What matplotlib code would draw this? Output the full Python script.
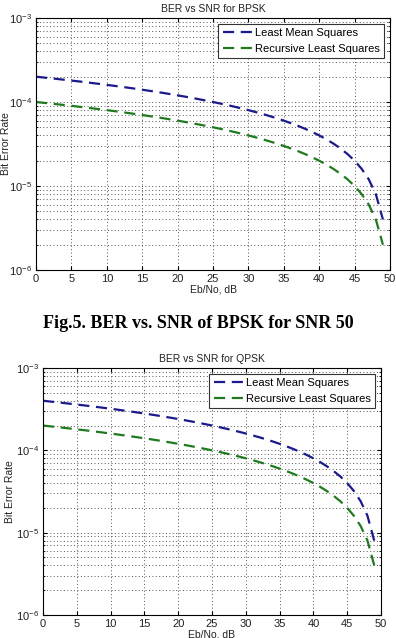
import matplotlib
matplotlib.use('Agg')
import matplotlib.pyplot as plt
import numpy as np

# Eb/No axis, dB
ebno = list(range(0, 50))

# BER values, in units of 1e-6
bpsk_lms = [200, 196, 192, 188, 184, 180, 176, 172, 168, 164,
            160, 156, 152, 148, 144, 140, 136, 132, 128, 124,
            120, 116, 112, 108, 104, 100, 96, 92, 88, 84,
            80, 76, 72, 68, 64, 60, 56, 52, 48, 44,
            40, 36, 32, 28, 24, 20, 16, 12, 8, 4]
bpsk_rls = [100, 98, 96, 94, 92, 90, 88, 86, 84, 82,
            80, 78, 76, 74, 72, 70, 68, 66, 64, 62,
            60, 58, 56, 54, 52, 50, 48, 46, 44, 42,
            40, 38, 36, 34, 32, 30, 28, 26, 24, 22,
            20, 18, 16, 14, 12, 10, 8, 6, 4, 2]
qpsk_lms = [400, 392, 384, 376, 368, 360, 352, 344, 336, 328,
            320, 312, 304, 296, 288, 280, 272, 264, 256, 248,
            240, 232, 224, 216, 208, 200, 192, 184, 176, 168,
            160, 152, 144, 136, 128, 120, 112, 104, 96, 88,
            80, 72, 64, 56, 48, 40, 32, 24, 16, 8]
qpsk_rls = [200, 196, 192, 188, 184, 180, 176, 172, 168, 164,
            160, 156, 152, 148, 144, 140, 136, 132, 128, 124,
            120, 116, 112, 108, 104, 100, 96, 92, 88, 84,
            80, 76, 72, 68, 64, 60, 56, 52, 48, 44,
            40, 36, 32, 28, 24, 20, 16, 12, 8, 4]

xticks = [0, 5, 10, 15, 20, 25, 30, 35, 40, 45, 50]
labels = ['Least Mean Squares', 'Recursive Least Squares']

plt.rcParams['font.family'] = ['Liberation Sans', 'DejaVu Sans']
plt.rcParams['mathtext.fontset'] = 'custom'
plt.rcParams['mathtext.rm'] = 'Liberation Sans'

W, H = 396, 638
fig = plt.figure(figsize=(W / 100, H / 100), dpi=100)
fig.patch.set_facecolor('white')

grid_ls = (0, (1, 2.5))


def ber_panel(rect, title, lms, rls, ylab_x):
    ax = fig.add_axes(rect)
    ax.semilogy(ebno, np.array(lms) * 1e-6, color='#1a1a8c', lw=1.6,
                dashes=(5, 3), label=labels[0])
    ax.semilogy(ebno, np.array(rls) * 1e-6, color='#1f7a1f', lw=1.6,
                dashes=(5, 3), label=labels[1])
    ax.set_xlim(0, 50)
    ax.set_ylim(1e-6, 1e-3)
    ax.set_xticks(xticks)
    ax.grid(True, which='major', color='#555555', linestyle=grid_ls, lw=0.7)
    ax.grid(True, which='minor', axis='y', color='#555555', linestyle=grid_ls, lw=0.7)
    ax.tick_params(direction='in', which='both', top=True, right=True,
                   labelsize=8, pad=3, length=3, labelcolor='#222222')
    ax.tick_params(which='minor', length=1.5)
    ax.set_title(title, fontsize=7.5, pad=4, color='#222222')
    ax.set_xlabel('Eb/No, dB', fontsize=7.5, labelpad=0, color='#222222')
    ax.set_ylabel('Bit Error Rate', fontsize=7.5, color='#222222', va='center')
    ax.yaxis.set_label_coords(ylab_x, 0.5)
    for s in ax.spines.values():
        s.set_linewidth(0.8)
    leg = ax.legend(loc='upper right', fontsize=8, fancybox=False,
                    framealpha=1, edgecolor='#333333', handlelength=2.6,
                    handletextpad=0.3, borderpad=0.4, labelspacing=0.5,
                    borderaxespad=0.5)
    leg.get_frame().set_linewidth(0.8)
    return ax


ber_panel([36 / W, 1 - 270 / H, (390 - 36) / W, (270 - 18) / H],
          'BER vs SNR for BPSK', bpsk_lms, bpsk_rls, -(36 - 6) / (390 - 36))
ber_panel([43 / W, 1 - 615 / H, (381 - 43) / W, (615 - 368) / H],
          'BER vs SNR for QPSK', qpsk_lms, qpsk_rls, -(43 - 10) / (381 - 43))

fig.text(0.5, 1 - 324 / H, 'Fig.5. BER vs. SNR of BPSK for SNR 50',
         ha='center', va='center', fontsize=13, fontweight='bold',
         family='Liberation Serif')

fig.savefig('out.png', dpi=100)
